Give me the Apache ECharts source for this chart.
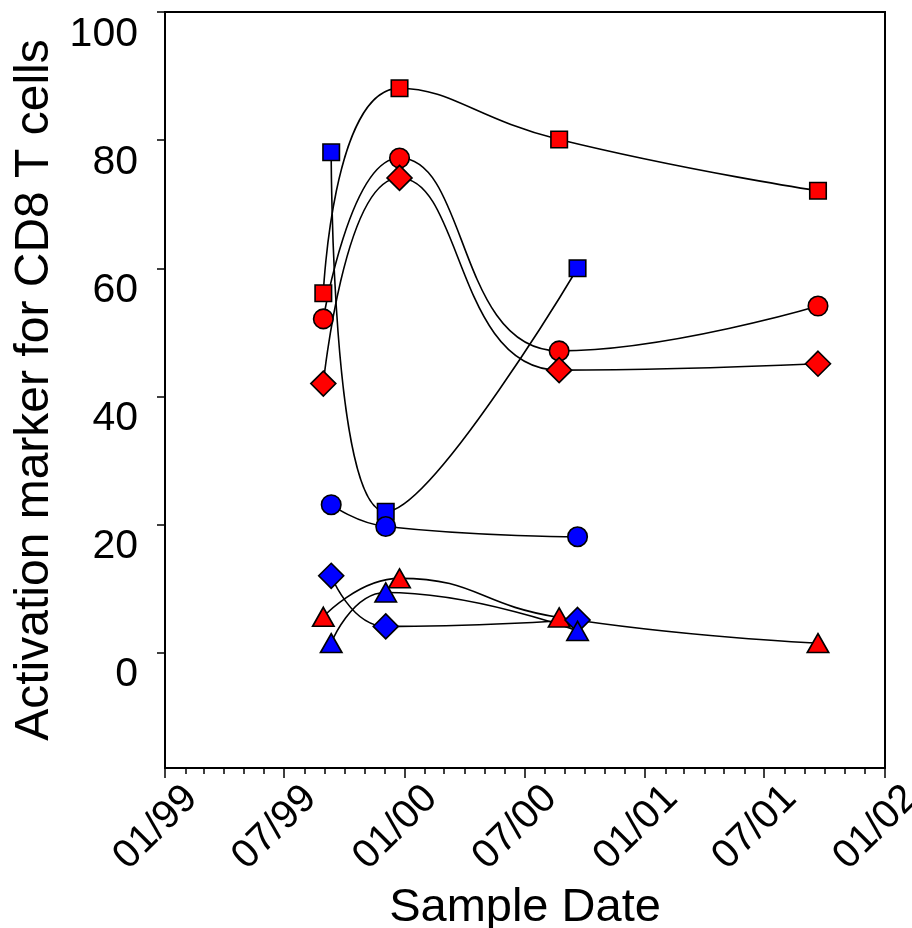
<!DOCTYPE html>
<html><head><meta charset="utf-8">
<script src="https://cdn.jsdelivr.net/npm/echarts@6/dist/echarts.min.js"></script>
<style>html,body{margin:0;padding:0;background:#fff}#c{width:912px;height:928px}</style>
</head><body><div id="c"></div>
<script>
// sample dates
const redDates = ['1999-08-30', '1999-12-24', '2000-08-23', '2001-09-21'];
const blueDates = ['1999-09-11', '1999-12-03', '2000-09-20'];
// series values
const redSquare = [56.1, 88.1, 80.1, 72.1];
const redCircle = [52.1, 77.2, 47.1, 54.1];
const redDiamond = [42.0, 74.1, 44.1, 45.1];
const redTriangle = [5.6, 11.6, 5.5, 1.5];
const blueSquare = [78.1, 22.0, 60.0];
const blueCircle = [23.1, 19.7, 18.1];
const blueDiamond = [12.0, 4.1, 5.1];
const blueTriangle = [1.5, 9.4, 3.4];
// tick labels
const yTicks = [0, 20, 40, 60, 80, 100];
const xTickLabels = ['01/99', '07/99', '01/00', '07/00', '01/01', '07/01', '01/02'];

function ts(s) { const p = s.split('-').map(Number); return Date.UTC(p[0], p[1] - 1, p[2]); }
function labelTs(l) { const p = l.split('/').map(Number); return Date.UTC(2000 + (p[1] > 50 ? p[1] - 100 : p[1]), p[0] - 1, 1); }
const xMajor = xTickLabels.map(labelTs);
const xMin = xMajor[0], xMax = xMajor[xMajor.length - 1];
const xMinor = [];
for (let y = 1999; y <= 2002; y++) for (let m = 0; m < 12; m++) { const t = Date.UTC(y, m, 1); if (t >= xMin && t <= xMax) xMinor.push(t); }
const labelMap = {}; xMajor.forEach((t, i) => labelMap[t] = xTickLabels[i]);

const RED = '#ff0000', BLUE = '#0000ff';
function mk(dates, vals, color, symbol, size) {
  return {
    type: 'line', smooth: 0.5, data: dates.map((d, i) => [ts(d), vals[i]]),
    symbol: symbol, symbolSize: size, showSymbol: true,
    lineStyle: { color: '#000', width: 1.6 },
    itemStyle: { color: color, borderColor: '#000', borderWidth: 1.6, opacity: 1 },
    emphasis: { disabled: true }, animation: false, z: 3
  };
}
const chart = echarts.init(document.getElementById('c'), null, { renderer: 'canvas' });
chart.setOption({
  backgroundColor: '#fff',
  animation: false,
  grid: { left: 165, right: 27, top: 12, bottom: 160, outerBoundsMode: 'none', containLabel: false, show: true, borderColor: '#000', borderWidth: 2, backgroundColor: 'transparent' },
  xAxis: [{
    type: 'value', min: xMin, max: xMax,
    name: 'Sample Date', nameLocation: 'middle', nameGap: 112,
    nameTextStyle: { fontFamily: 'Liberation Sans', fontSize: 47, color: '#000' },
    axisLine: { onZero: false, lineStyle: { color: '#000', width: 2 } },
    axisTick: { customValues: xMajor, length: 10, lineStyle: { color: '#000', width: 1.5 } },
    axisLabel: { customValues: xMajor, rotate: 45, margin: -2, verticalAlign: 'top', padding: [17, 0, 0, 0], fontFamily: 'Liberation Sans', fontSize: 40, color: '#000', formatter: v => labelMap[v] || '' },
    splitLine: { show: false }
  }, {
    type: 'value', min: xMin, max: xMax, position: 'bottom',
    axisLine: { show: false, onZero: false },
    axisTick: { customValues: xMinor, length: 6, lineStyle: { color: '#000', width: 1.5 } },
    axisLabel: { show: false }, splitLine: { show: false }
  }],
  yAxis: {
    type: 'value', min: -18, max: 100,
    name: 'Activation marker for CD8 T cells', nameLocation: 'middle', nameGap: 103,
    nameTextStyle: { fontFamily: 'Liberation Sans', fontSize: 48, color: '#000' },
    axisLine: { show: true, onZero: false, lineStyle: { color: '#000', width: 2 } },
    axisTick: { show: true, customValues: yTicks, length: 8, lineStyle: { color: '#000', width: 1.5 } },
    axisLabel: { customValues: yTicks, margin: 27, verticalAlign: 'top', padding: [2, 0, 0, 0], fontFamily: 'Liberation Sans', fontSize: 41, color: '#000' },
    splitLine: { show: false }
  },
  series: [
    mk(redDates, redSquare, RED, 'rect', 16.5),
    mk(redDates, redCircle, RED, 'circle', 19.5),
    mk(redDates, redDiamond, RED, 'diamond', 25),
    mk(redDates, redTriangle, RED, 'triangle', [21.5, 19]),
    mk(blueDates, blueSquare, BLUE, 'rect', 16.5),
    mk(blueDates, blueCircle, BLUE, 'circle', 19.5),
    mk(blueDates, blueDiamond, BLUE, 'diamond', 25),
    mk(blueDates, blueTriangle, BLUE, 'triangle', [21.5, 19])
  ]
});
</script></body></html>
